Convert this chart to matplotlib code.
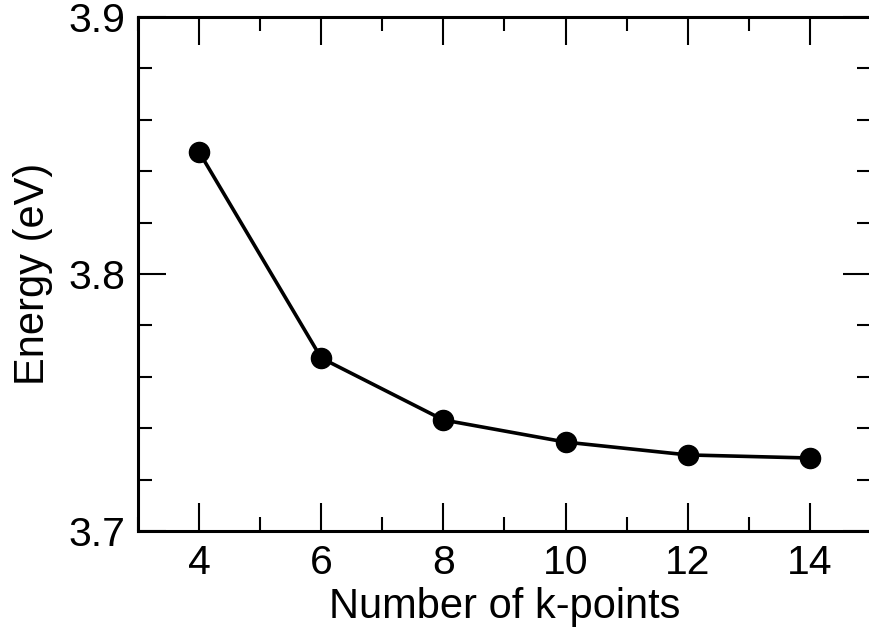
import matplotlib
matplotlib.use('Agg')
import matplotlib.pyplot as plt
from matplotlib.ticker import MultipleLocator

kpoints = [4, 6, 8, 10, 12, 14]
energy = [3.8475, 3.7673, 3.7432, 3.7346, 3.7296, 3.7284]

plt.rcParams['font.family'] = 'Liberation Sans'
plt.rcParams['font.size'] = 29.5

fig = plt.figure(figsize=(8.69, 6.34), dpi=100)
ax = fig.add_axes([138 / 869, 103 / 634, 733 / 869, 514 / 634])

ax.plot(kpoints, energy, color='k', lw=2.6, marker='o', ms=14.5)

ax.set_xlim(3, 15)
ax.set_ylim(3.7, 3.9)
ax.xaxis.set_major_locator(MultipleLocator(2))
ax.xaxis.set_minor_locator(MultipleLocator(1))
ax.yaxis.set_major_locator(MultipleLocator(0.1))
ax.yaxis.set_minor_locator(MultipleLocator(0.02))
ax.tick_params(which='both', direction='in', top=True, right=True, width=1.5)
ax.tick_params(which='major', length=20, pad=9)
ax.tick_params(which='minor', length=10)
for s in ax.spines.values():
    s.set_linewidth(2.2)

ax.set_xlabel("Number of k-points", fontsize=30, labelpad=4)
ax.set_ylabel("Energy (eV)", fontsize=30, labelpad=11)

fig.savefig("out.png", dpi=100)
